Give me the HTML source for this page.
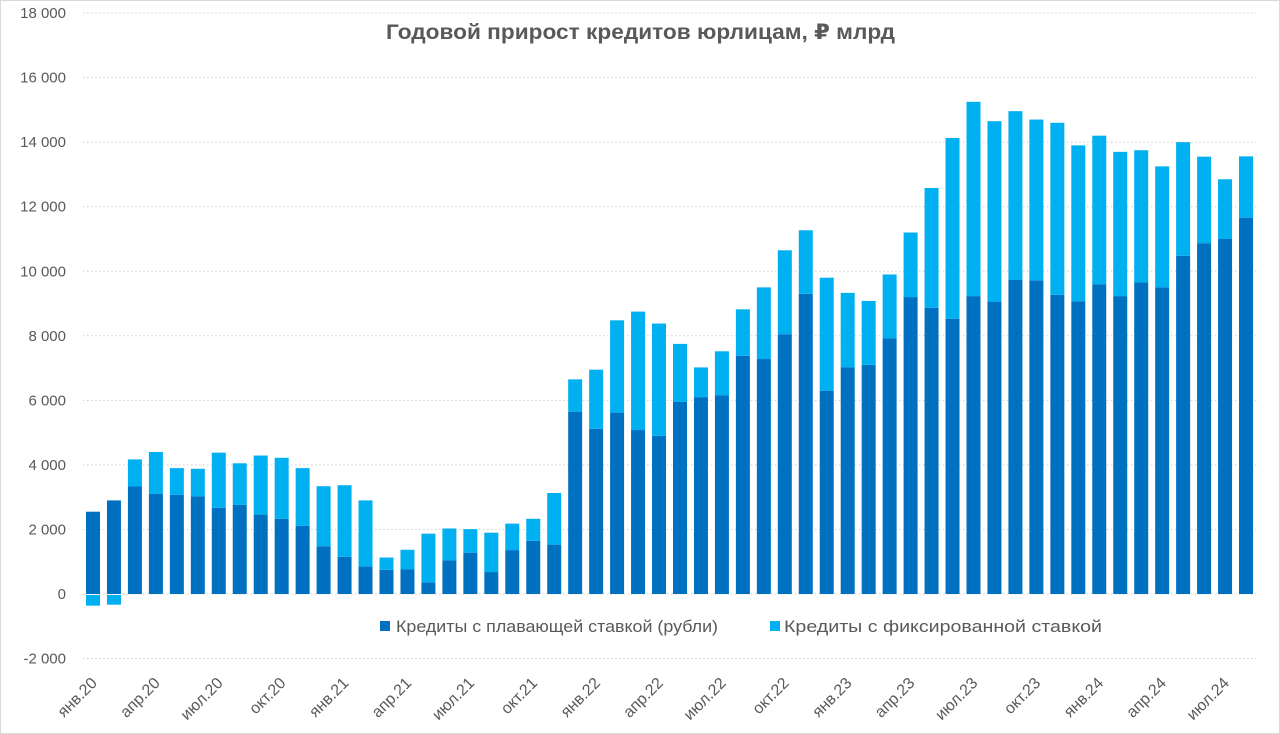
<!DOCTYPE html>
<html><head><meta charset="utf-8"><style>
html,body{margin:0;padding:0;background:#fff}
svg{display:block;font-family:"Liberation Sans","DejaVu Sans",sans-serif}
</style></head><body>
<svg id="c" width="1280" height="734" xmlns="http://www.w3.org/2000/svg"></svg>
<script>
const fl=[2550,2900,3330,3100,3070,3030,2670,2760,2460,2330,2110,1480,1150,850,750,760,360,1040,1280,680,1360,1650,1530,5650,5120,5620,5080,4900,5950,6100,6150,7380,7280,8050,9300,6300,7020,7100,7920,9200,8870,8530,9230,9060,9730,9720,9270,9070,9600,9230,9650,9500,10480,10870,11000,11660];
const tot=[2550,2900,4170,4400,3900,3880,4380,4050,4290,4220,3900,3340,3370,2900,1130,1370,1870,2030,2010,1900,2180,2330,3130,6650,6950,8480,8750,8380,7750,7020,7520,8820,9500,10650,11270,9800,9330,9080,9900,11200,12580,14130,15250,14650,14960,14700,14600,13900,14200,13700,13750,13250,14000,13550,12850,13560];
const fx0=[-330,-300];
const Y=v=>594-v*0.032275;
let s='<rect x="0.5" y="0.5" width="1279" height="733" fill="#fff" stroke="#d9d9d9"/>';
for(let v=-2000;v<=18000;v+=2000){const y=Y(v);
s+=`<line x1="83" x2="1257" y1="${y}" y2="${y}" stroke="#d0d0d0" stroke-dasharray="1.5,2.5"/>`;
s+=`<text x="66" y="${y+5}" text-anchor="end" font-size="15" fill="#595959">${v<0?'-2 000':v.toLocaleString('ru-RU').replace(/\s/g,' ')}</text>`;}
const mon=['янв','апр','июл','окт'];
for(let i=0;i<56;i++){const cx=93+i*20.964,x=cx-7;
s+=`<rect x="${x}" y="${Y(fl[i])}" width="14" height="${Y(0)-Y(fl[i])}" fill="#0070C0"/>`;
if(i<2){s+=`<rect x="${x}" y="${Y(0)+1}" width="14" height="${Y(fx0[i])-Y(0)}" fill="#00B0F0"/>`;}
else s+=`<rect x="${x}" y="${Y(tot[i])}" width="14" height="${Y(fl[i])-Y(tot[i])}" fill="#00B0F0"/>`;
if(i%3==0){const yr=20+Math.floor(i/12);const m=mon[(i%12)/3];
s+=`<text transform="translate(${cx+5},${684}) rotate(-45)" text-anchor="end" font-size="16" fill="#595959">${m}.${yr}</text>`;}}
s+=`<text x="386" y="39" font-size="21" font-weight="bold" fill="#595959" textLength="509" lengthAdjust="spacingAndGlyphs">Годовой прирост кредитов юрлицам, ₽ млрд</text>`;
s+=`<rect x="380" y="621" width="10" height="10" fill="#0070C0"/><text x="396" y="632" font-size="17" fill="#595959" textLength="322" lengthAdjust="spacingAndGlyphs">Кредиты с плавающей ставкой (рубли)</text>`;
s+=`<rect x="770" y="621" width="10" height="10" fill="#00B0F0"/><text x="784" y="632" font-size="17" fill="#595959" textLength="318" lengthAdjust="spacingAndGlyphs">Кредиты с фиксированной ставкой</text>`;
document.getElementById('c').innerHTML=s;
</script>
</body></html>
